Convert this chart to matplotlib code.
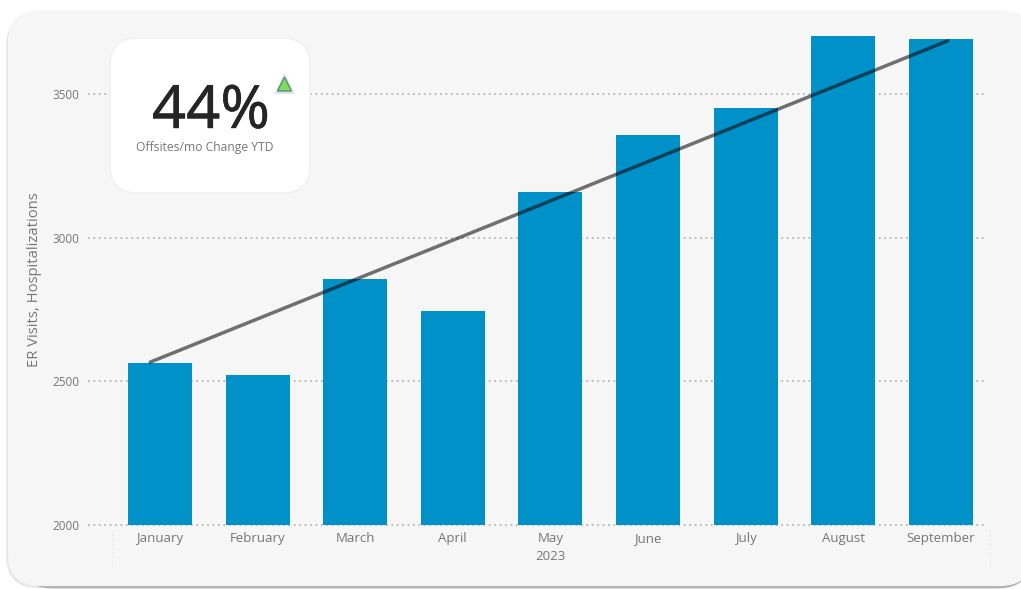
import matplotlib
matplotlib.use('Agg')
import matplotlib.pyplot as plt
import matplotlib.patheffects as pe
from matplotlib.patches import FancyBboxPatch, Polygon

plt.rcParams['font.family'] = ['Open Sans', 'DejaVu Sans']

# Données du graphique
MONTHS = ['January', 'February', 'March', 'April', 'May', 'June', 'July', 'August', 'September']
VISITS = [2564, 2522, 2856, 2745, 3159, 3357, 3451, 3702, 3692]
YEAR = '2023'
Y_TICKS = [2000, 2500, 3000, 3500]
TREND_X = [-0.1, 8.07]
TREND_Y = [2567, 3685]
KPI_VALUE = '44%'
KPI_LABEL = 'Offsites/mo Change YTD'

W, H = 1021, 589
BAR_COLOR = '#0091c8'
TEXT_COLOR = '#767676'

fig = plt.figure(figsize=(W / 100, H / 100), dpi=100, facecolor='white')


def box(x0, y0, x1, y1):
    # Convertit une zone en pixels (origine en haut) vers les coordonnées de la figure
    return [x0 / W, 1 - y1 / H, (x1 - x0) / W, (y1 - y0) / H]


# Fond en pixels : carte grise avec ombre
bg = fig.add_axes([0, 0, 1, 1], zorder=0)
bg.set_xlim(0, W)
bg.set_ylim(H, 0)
bg.axis('off')
bg.add_patch(FancyBboxPatch((6, 14), 1026, 574, boxstyle='round,pad=0,rounding_size=32',
                            fc='#e8e8e8', ec='none'))
bg.add_patch(FancyBboxPatch((20, 30), 1010, 558.5, boxstyle='round,pad=0,rounding_size=32',
                            fc='#b4b4b4', ec='none'))
bg.add_patch(FancyBboxPatch((8, 10), 1024, 576, boxstyle='round,pad=0,rounding_size=32',
                            fc='#f6f6f6', ec='none'))
# Lignes verticales pâles de part et d'autre de l'axe
for xv in (112, 990):
    bg.plot([xv, xv], [530, 568], color='#e2e2e2', lw=0.9, ls=(0, (1, 2.5)))

# Graphique principal
ax = fig.add_axes(box(88, 10, 985, 525), zorder=1)
ax.patch.set_alpha(0)
positions = list(range(len(MONTHS)))
ax.bar(positions, VISITS, width=0.656, color=BAR_COLOR, zorder=2)
ax.plot(TREND_X, TREND_Y, color='black', alpha=0.55, lw=2.5, solid_capstyle='round', zorder=3)

ax.set_xlim(-0.738, 8.453)
ax.set_ylim(2000, 2000 + 515 / 0.2873)
ax.set_yticks(Y_TICKS)
ax.set_xticks(positions)
ax.set_xticklabels(MONTHS)
ax.tick_params(length=0, labelcolor=TEXT_COLOR, labelsize=9.5)
ax.tick_params(axis='x', pad=5)
ax.tick_params(axis='y', pad=6)
ax.yaxis.grid(True, color='#b6b6b6', lw=1.3, ls=(0, (1, 2)), zorder=1, clip_on=False)
ax.set_axisbelow(True)
ax.xaxis.grid(False)
for side in ax.spines.values():
    side.set_visible(False)
for lab in ax.get_yticklabels():
    lab.set_fontsize(8.5)

ax.set_ylabel('ER Visits, Hospitalizations', color=TEXT_COLOR, fontsize=10.6)
ax.yaxis.set_label_coords((42 - 88) / 897, (525 - 280) / 515)
ax.text(550, 557, YEAR, color=TEXT_COLOR, fontsize=9.5, ha='center', va='center',
        transform=bg.transData)

# Carte KPI par-dessus le graphique
top = fig.add_axes([0, 0, 1, 1], zorder=2)
top.set_xlim(0, W)
top.set_ylim(H, 0)
top.axis('off')
top.patch.set_alpha(0)
top.add_patch(FancyBboxPatch((110, 38), 200, 155, boxstyle='round,pad=0,rounding_size=28',
                             fc='white', ec='#f0f0f0', lw=1))
kpi = top.text(211, 128, KPI_VALUE, color='#252525', fontsize=43,
               family=['Noto Sans', 'DejaVu Sans'], ha='center', va='baseline')
kpi.set_path_effects([pe.withStroke(linewidth=0.3, foreground='#252525')])
top.text(205, 147, KPI_LABEL, color=TEXT_COLOR, fontsize=8.7, ha='center', va='center')
# Triangle vert avec un halo bleuté
top.add_patch(Polygon([(284.5, 73), (274, 94), (295, 94)], closed=True, fc='#9fb6c4',
                      ec='none', alpha=0.35))
top.add_patch(Polygon([(284.5, 77), (277.5, 91), (291.5, 91)], closed=True, fc='#7fdc5f',
                      ec='#5f8f74', lw=1))

fig.savefig('out.png', dpi=100, facecolor='white')
